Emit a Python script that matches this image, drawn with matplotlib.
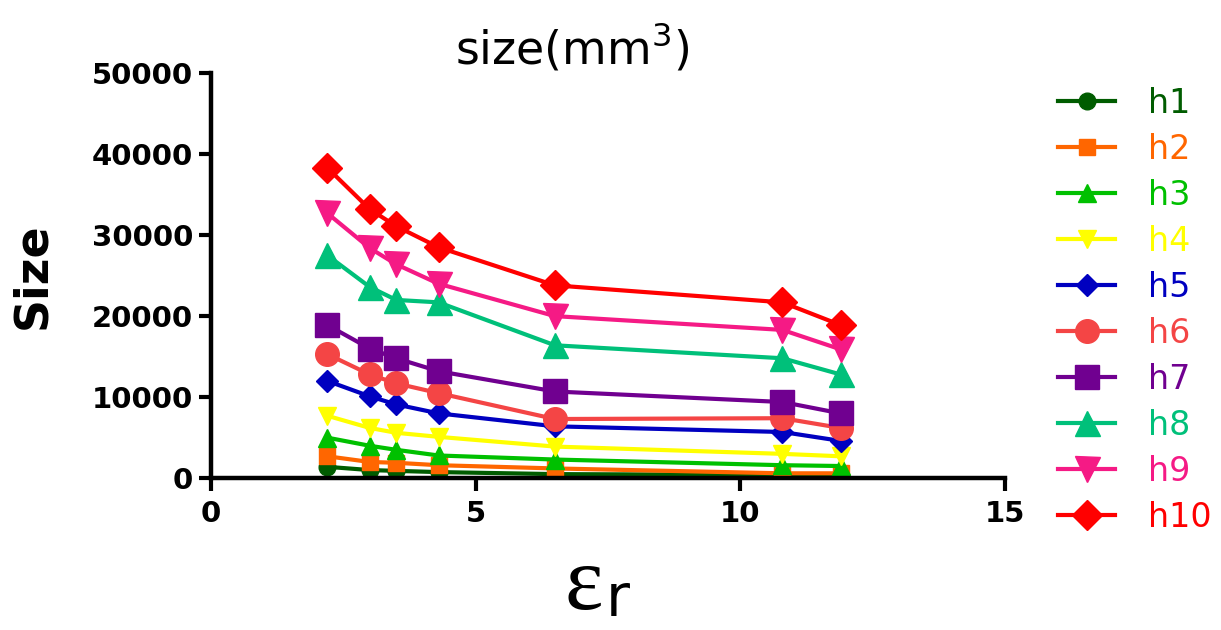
import matplotlib
matplotlib.use("Agg")
import matplotlib.pyplot as plt

plt.rcParams['font.family'] = ['DejaVu Sans']

er = [2.2, 3.0, 3.5, 4.3, 6.5, 10.8, 11.9]
series_names = ["h1", "h2", "h3", "h4", "h5", "h6", "h7", "h8", "h9", "h10"]
h1 = [1400, 1000, 900, 750, 500, 400, 300]
h2 = [2700, 2000, 1900, 1600, 1200, 600, 600]
h3 = [5000, 4000, 3500, 2800, 2300, 1600, 1500]
h4 = [7700, 6200, 5600, 5100, 3900, 3000, 2700]
h5 = [12000, 10100, 9100, 8000, 6400, 5700, 4600]
h6 = [15300, 12800, 11700, 10500, 7300, 7400, 6200]
h7 = [18900, 16000, 14800, 13200, 10700, 9400, 8000]
h8 = [27500, 23600, 22000, 21700, 16400, 14800, 12800]
h9 = [32700, 28400, 26400, 24000, 20000, 18300, 15900]
h10 = [38300, 33200, 31100, 28500, 23800, 21700, 18900]
values = [h1, h2, h3, h4, h5, h6, h7, h8, h9, h10]

colors = ["#005c00", "#ff6600", "#00c000", "#ffff00", "#0000c0",
          "#f44545", "#700090", "#00c07a", "#f51a85", "#ff0000"]
markers = ["o", "s", "^", "v", "D", "o", "s", "^", "v", "D"]
msizes = [12, 12, 13, 13, 11, 17, 17, 18, 18, 15]

fig = plt.figure(figsize=(12.21, 6.3), dpi=100)
ax = fig.add_axes([0.1728, 0.241, 0.650, 0.643])

for name, vals, c, m, ms in zip(series_names, values, colors, markers, msizes):
    ax.plot(er, vals, color=c, marker=m, markersize=ms, linewidth=3,
            markeredgewidth=1, markeredgecolor=c, label=name,
            solid_joinstyle='round')

ax.set_xlim(0, 15)
ax.set_ylim(0, 50000)
ax.set_xticks([0, 5, 10, 15])
ax.set_yticks([0, 10000, 20000, 30000, 40000, 50000])
for s in ['top', 'right']:
    ax.spines[s].set_visible(False)
for s in ['left', 'bottom']:
    ax.spines[s].set_linewidth(3.2)
ax.tick_params(direction='out', width=3, length=9, labelsize=21)
ax.tick_params(axis='y', pad=4)
ax.tick_params(axis='x', pad=7)
for lab in ax.get_xticklabels() + ax.get_yticklabels():
    lab.set_fontweight('bold')

ax.set_ylabel("Size", fontsize=33, fontweight='bold', labelpad=26)
ax.set_title(r"size(mm$^3$)", fontsize=33, pad=6, x=(572 - 211) / (1005 - 211))

# x-axis label: epsilon with r
fig.text(584 / 1221, 1 - 609 / 630, "ε", family='Liberation Serif', fontsize=66,
         ha='center', va='baseline')
fig.text(618 / 1221, 1 - 616 / 630, "r", family='DejaVu Sans', fontsize=42,
         ha='center', va='baseline')

leg = fig.legend(loc='upper left', bbox_to_anchor=(1058 / 1221, 0.862), frameon=False,
                 fontsize=24, handlelength=1.72, labelspacing=0.39, handletextpad=0.98,
                 borderpad=0, borderaxespad=0)
for t, c in zip(leg.get_texts(), colors):
    t.set_color(c)

fig.savefig("out.png", dpi=100)
